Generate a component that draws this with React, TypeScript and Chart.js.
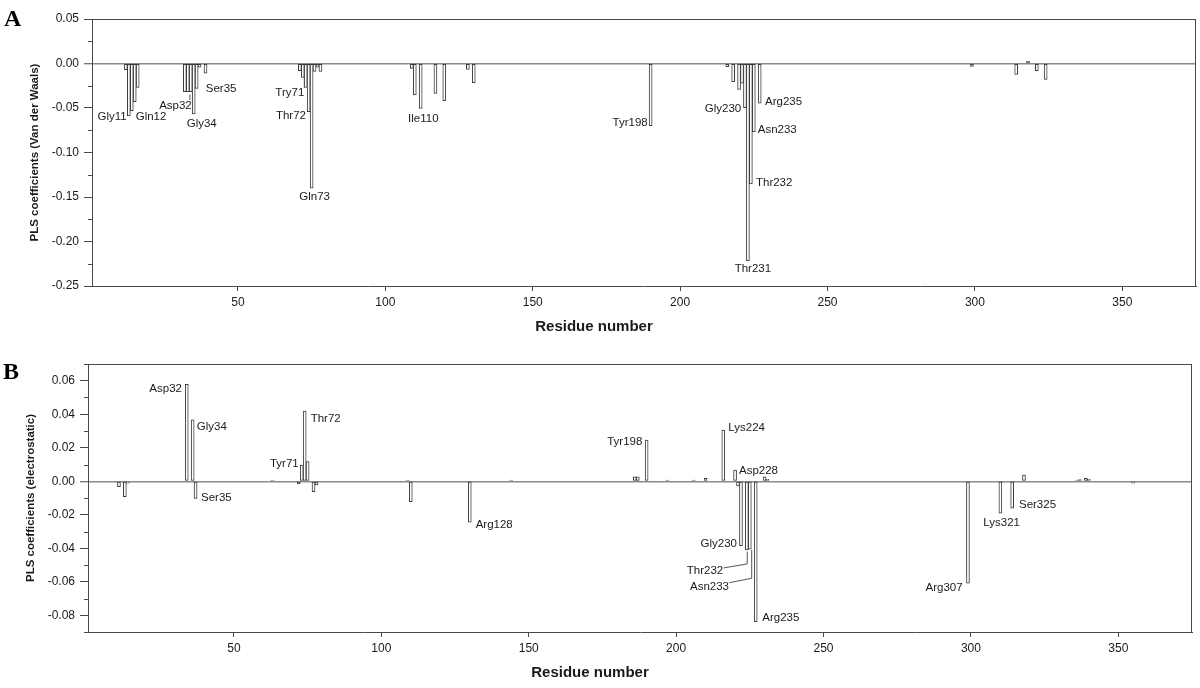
import React, { useEffect, useRef } from 'react';
import { Chart, registerables } from 'chart.js';

Chart.register(...registerables);

// ---------- data ----------
const X_TICKS = [50, 100, 150, 200, 250, 300, 350];

// Panel A: Van der Waals coefficients
const A_POSITIONS = [12, 13, 14, 15, 16, 32, 33, 34, 35, 36, 37, 39, 71, 72, 73, 74, 75, 76, 77, 78, 109, 110, 112, 117, 120, 128, 130, 190, 216, 218, 220, 221, 222, 223, 224, 225, 227, 299, 314, 318, 321, 324];
const A_VALUES = [-0.007, -0.059, -0.053, -0.043, -0.027, -0.0317, -0.0317, -0.0317, -0.0567, -0.028, -0.004, -0.011, -0.008, -0.0155, -0.027, -0.054, -0.14, -0.009, -0.004, -0.009, -0.0054, -0.0354, -0.0504, -0.0335, -0.0418, -0.0066, -0.0215, -0.0698, -0.0036, -0.0204, -0.029, -0.022, -0.0496, -0.2215, -0.1354, -0.0766, -0.0447, -0.0032, -0.0122, 0.0028, -0.008, -0.018];
const A_Y_TICKS = [-0.25, -0.2, -0.15, -0.1, -0.05, 0, 0.05];
const A_Y_MINOR = [-0.225, -0.175, -0.125, -0.075, -0.025, 0.025];
const A_LABEL_TEXT = ['Gly11', 'Gln12', 'Asp32', 'Gly34', 'Ser35', 'Try71', 'Thr72', 'Gln73', 'Ile110', 'Tyr198', 'Gly230', 'Thr231', 'Thr232', 'Asn233', 'Arg235'];
const A_LABEL_AT = [13, 14, 34, 35, 36, 73, 74, 75, 112, 190, 222, 223, 224, 225, 227];

// Panel B: electrostatic coefficients
const B_POSITIONS = [11, 13, 14, 34, 36, 37, 63, 72, 73, 74, 75, 77, 78, 109, 110, 130, 144, 186, 187, 190, 197, 206, 210, 216, 220, 221, 222, 224, 225, 227, 230, 231, 299, 310, 314, 318, 336, 337, 339, 340, 355];
const B_VALUES = [-0.0032, -0.0092, -0.0012, 0.0579, 0.0366, -0.0102, 0.0007, -0.0016, 0.0097, 0.0419, 0.0117, -0.0062, -0.0022, 0.0007, -0.0122, -0.0245, 0.0007, 0.0027, 0.0027, 0.0246, 0.0007, 0.0007, 0.0017, 0.0306, 0.0067, -0.0028, -0.0385, -0.041, -0.0405, -0.0838, 0.0027, 0.0012, -0.0609, -0.0191, -0.0161, 0.0037, 0.0007, 0.001, 0.0017, 0.0012, -0.0012];
const B_Y_TICKS = [-0.08, -0.06, -0.04, -0.02, 0, 0.02, 0.04, 0.06];
const B_Y_MINOR = [-0.09, -0.07, -0.05, -0.03, -0.01, 0.01, 0.03, 0.05, 0.07];
const B_LABEL_TEXT = ['Asp32', 'Gly34', 'Ser35', 'Tyr71', 'Thr72', 'Arg128', 'Tyr198', 'Lys224', 'Asp228', 'Gly230', 'Thr232', 'Asn233', 'Arg235', 'Arg307', 'Lys321', 'Ser325'];
const B_LABEL_AT = [34, 36, 37, 73, 74, 130, 190, 216, 220, 222, 224, 225, 227, 299, 310, 314];

// ---------- label placement (pixel offsets from the bar end) ----------
type Place = { align: 'left' | 'right' | 'center'; dx: number; dy: number; leader?: number[][] };
const A_PLACE: Place[] = [
  { align: 'right', dx: -2.2, dy: 0.7 },
  { align: 'left', dx: 3.9, dy: 6.6 },
  { align: 'right', dx: 1, dy: 14.3, leader: [[-0.8, 2.6], [-0.8, 8.3]] },
  { align: 'left', dx: -7, dy: 10 },
  { align: 'left', dx: 9.1, dy: 0 },
  { align: 'right', dx: -1.4, dy: 5.6, leader: [[-1.4, -9.4], [-1.4, 0]] },
  { align: 'right', dx: -2.7, dy: 4.4 },
  { align: 'center', dx: 3, dy: 8.6 },
  { align: 'center', dx: 2.6, dy: 10 },
  { align: 'right', dx: -2.9, dy: -2.3 },
  { align: 'right', dx: -3.7, dy: 1.4 },
  { align: 'center', dx: 5, dy: 7.7 },
  { align: 'left', dx: 5.1, dy: -1.3 },
  { align: 'left', dx: 3.9, dy: -1.4 },
  { align: 'left', dx: 5.3, dy: -1.6 },
];
const B_PLACE: Place[] = [
  { align: 'right', dx: -4.8, dy: 5 },
  { align: 'left', dx: 4.1, dy: 6.8 },
  { align: 'left', dx: 5.4, dy: -0.6 },
  { align: 'right', dx: -3, dy: -0.7 },
  { align: 'left', dx: 6, dy: 7.3 },
  { align: 'left', dx: 5.9, dy: 2.7 },
  { align: 'right', dx: -4.3, dy: 1.7 },
  { align: 'left', dx: 5, dy: -1.7 },
  { align: 'left', dx: 3.9, dy: 1 },
  { align: 'right', dx: -4, dy: -2.4 },
  { align: 'right', dx: -23.6, dy: 20.7, leader: [[-23.3, 18], [0.4, 14], [0.4, 1.7]] },
  { align: 'right', dx: -20.8, dy: 37.6, leader: [[-20.5, 33.6], [1.9, 29.2], [1.9, 0.9]] },
  { align: 'left', dx: 6.6, dy: -3.3 },
  { align: 'right', dx: -5.3, dy: 5 },
  { align: 'center', dx: 1.3, dy: 10 },
  { align: 'left', dx: 6.8, dy: -3.2 },
];

const FONT = "'Liberation Sans', Arial, Helvetica, sans-serif";
const AXIS = '#4a4a4a';
const ZERO = '#8a8a8a';
const TEXT = '#1a1a1a';

const fmt = (v: number) => (Math.abs(v) < 1e-9 ? '0.00' : v.toFixed(2));

const annotPlugin = {
  id: 'annot',
  afterDatasetsDraw(chart: any, _args: any, opts: any) {
    const { ctx, chartArea } = chart;
    const xs = chart.scales.x;
    const ys = chart.scales.y;
    ctx.save();
    ctx.strokeStyle = AXIS;
    ctx.lineWidth = 1;
    ctx.beginPath();
    ctx.moveTo(chartArea.left, Math.round(chartArea.top) + 0.5);
    ctx.lineTo(chartArea.right, Math.round(chartArea.top) + 0.5);
    ctx.moveTo(Math.round(chartArea.right) - 0.5, chartArea.top);
    ctx.lineTo(Math.round(chartArea.right) - 0.5, chartArea.bottom);
    for (const v of opts.minor) {
      const py = Math.round(ys.getPixelForValue(v)) + 0.5;
      ctx.moveTo(chartArea.left - 4, py);
      ctx.lineTo(chartArea.left, py);
    }
    ctx.stroke();
    ctx.font = `11.5px ${FONT}`;
    ctx.fillStyle = TEXT;
    ctx.textBaseline = 'middle';
    opts.texts.forEach((t: string, i: number) => {
      const at = opts.at[i];
      const idx = opts.positions.indexOf(at);
      const val = opts.values[idx];
      const px = xs.getPixelForValue(at);
      const py = ys.getPixelForValue(val);
      const p: Place = opts.place[i];
      ctx.textAlign = p.align;
      ctx.fillText(t, px + p.dx, py + p.dy);
      if (p.leader) {
        ctx.strokeStyle = '#555';
        ctx.lineWidth = 1;
        ctx.beginPath();
        p.leader.forEach((pt, k) => {
          const lx = px + pt[0];
          const ly = py + pt[1];
          if (k === 0) ctx.moveTo(lx, ly);
          else ctx.lineTo(lx, ly);
        });
        ctx.stroke();
      }
    });
    ctx.font = `bold 15px ${FONT}`;
    ctx.textAlign = 'center';
    ctx.fillText(opts.xTitle, (chartArea.left + chartArea.right) / 2 - 50, chartArea.bottom + 41);
    ctx.restore();
  },
};

function makeChart(
  canvas: HTMLCanvasElement,
  cfg: {
    positions: number[];
    values: number[];
    yMin: number;
    yMax: number;
    yTicks: number[];
    yMinor: number[];
    yTitle: string;
    yTitlePad: number;
    left: number;
    top: number;
    right: number;
    bottom: number;
    texts: string[];
    at: number[];
    place: Place[];
  }
) {
  return new Chart(canvas, {
    type: 'bar',
    data: {
      datasets: [
        {
          data: cfg.positions.map((p, i) => ({ x: p, y: cfg.values[i] })),
          backgroundColor: '#ffffff',
          borderColor: '#3a3a3a',
          borderWidth: 1,
          borderSkipped: false,
          barThickness: 3,
        } as any,
      ],
    },
    options: {
      animation: false,
      responsive: false,
      events: [],
      layout: { padding: { left: 0, top: cfg.top, right: 1200 - cfg.right, bottom: 344 - cfg.bottom - 50 } },
      plugins: {
        legend: { display: false },
        tooltip: { enabled: false },
        annot: {
          minor: cfg.yMinor,
          texts: cfg.texts,
          at: cfg.at,
          place: cfg.place,
          positions: cfg.positions,
          values: cfg.values,
          xTitle: 'Residue number',
        },
      } as any,
      scales: {
        x: {
          type: 'linear',
          offset: false,
          min: 0.5,
          max: 375,
          afterBuildTicks: (s: any) => {
            s.ticks = X_TICKS.map((v) => ({ value: v }));
          },
          afterFit: (s: any) => {
            s.height = 50;
          },
          grid: { display: true, offset: false, drawOnChartArea: false, drawTicks: true, tickLength: 5, color: AXIS },
          border: { display: true, color: AXIS, width: 1 },
          ticks: { font: { family: FONT, size: 12 }, color: TEXT, padding: 4, maxRotation: 0, autoSkip: false },
        },
        y: {
          type: 'linear',
          min: cfg.yMin,
          max: cfg.yMax,
          afterBuildTicks: (s: any) => {
            s.ticks = cfg.yTicks.map((v) => ({ value: v }));
          },
          afterFit: (s: any) => {
            s.width = cfg.left;
          },
          grid: {
            display: true,
            drawOnChartArea: true,
            drawTicks: true,
            tickLength: 8,
            tickColor: AXIS,
            tickWidth: 1,
            color: (c: any) => (c.tick && Math.abs(c.tick.value) < 1e-9 ? ZERO : 'rgba(0,0,0,0)'),
            lineWidth: (c: any) => (c.tick && Math.abs(c.tick.value) < 1e-9 ? 1.5 : 1),
          },
          border: { display: true, color: AXIS, width: 1 },
          ticks: {
            font: { family: FONT, size: 12 },
            color: TEXT,
            padding: 5,
            autoSkip: false,
            callback: (v: any) => fmt(Number(v)),
          },
          title: {
            display: true,
            text: cfg.yTitle,
            font: { family: FONT, size: 11.5, weight: 'bold' },
            color: TEXT,
            padding: { top: cfg.yTitlePad, bottom: 0 },
          },
        },
      },
    },
    plugins: [annotPlugin as any],
  });
}

export default function App() {
  const refA = useRef<HTMLCanvasElement>(null);
  const refB = useRef<HTMLCanvasElement>(null);

  useEffect(() => {
    const a = makeChart(refA.current!, {
      positions: A_POSITIONS,
      values: A_VALUES,
      yMin: -0.25,
      yMax: 0.05,
      yTicks: A_Y_TICKS,
      yMinor: A_Y_MINOR,
      yTitle: 'PLS coefficients (Van der Waals)',
      yTitlePad: 27.6,
      left: 92,
      top: 19,
      right: 1196,
      bottom: 286,
      texts: A_LABEL_TEXT,
      at: A_LABEL_AT,
      place: A_PLACE,
    });
    const b = makeChart(refB.current!, {
      positions: B_POSITIONS,
      values: B_VALUES,
      yMin: -0.09,
      yMax: 0.07,
      yTicks: B_Y_TICKS,
      yMinor: B_Y_MINOR,
      yTitle: 'PLS coefficients (electrostatic)',
      yTitlePad: 24,
      left: 88,
      top: 20,
      right: 1192,
      bottom: 288,
      texts: B_LABEL_TEXT,
      at: B_LABEL_AT,
      place: B_PLACE,
    });
    return () => {
      a.destroy();
      b.destroy();
    };
  }, []);

  const letter: React.CSSProperties = {
    position: 'absolute',
    left: 4,
    fontFamily: "'Liberation Serif', 'Times New Roman', serif",
    fontWeight: 'bold',
    fontSize: 24,
    lineHeight: '24px',
    color: '#000',
  };

  return (
    <div style={{ position: 'absolute', left: 0, top: 0, width: 1200, height: 688, background: '#fff' }}>
      <canvas ref={refA} width={1200} height={344} style={{ position: 'absolute', left: 0, top: 0, width: 1200, height: 344 }} />
      <canvas ref={refB} width={1200} height={344} style={{ position: 'absolute', left: 0, top: 344, width: 1200, height: 344 }} />
      <div style={{ ...letter, top: 6 }}>A</div>
      <div style={{ ...letter, top: 359, left: 3 }}>B</div>
    </div>
  );
}
